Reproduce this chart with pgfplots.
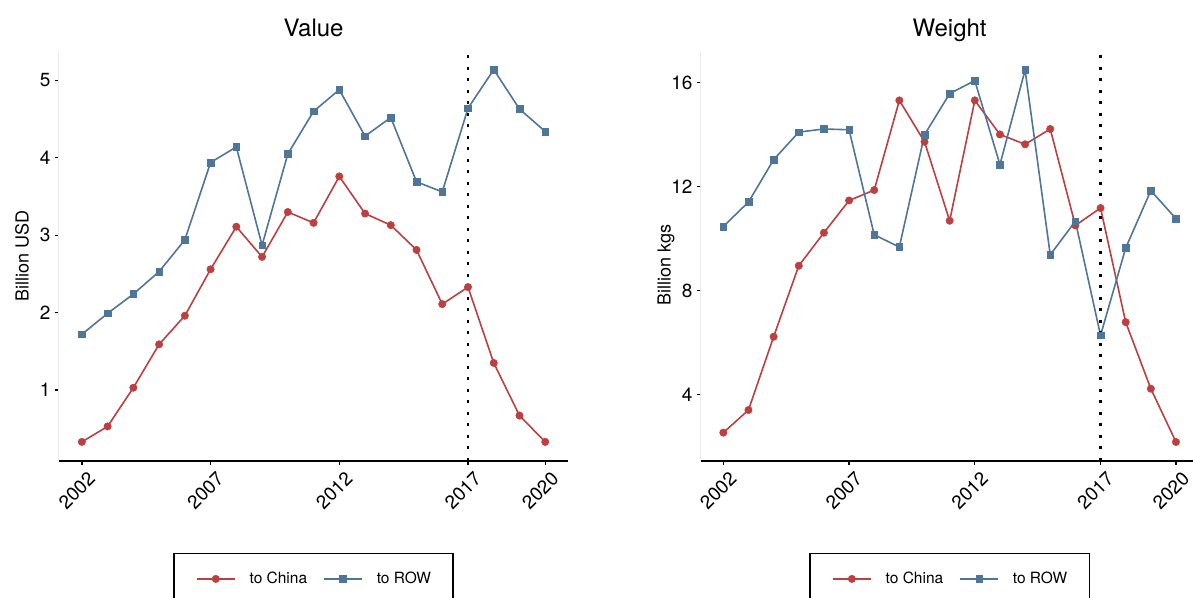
\documentclass[border=0pt]{standalone}
\usepackage{fontspec}
\setmainfont{TeX Gyre Heros}
\usepackage{pgfplots}
\pgfplotsset{compat=1.18}

\definecolor{cnred}{HTML}{BD3F3F}
\definecolor{rowblue}{HTML}{4F7599}

% export series: year, to China, to ROW
\pgfplotstableread{
year china row
2002 0.33 1.72
2003 0.53 1.99
2004 1.03 2.24
2005 1.59 2.53
2006 1.96 2.94
2007 2.56 3.94
2008 3.11 4.14
2009 2.72 2.87
2010 3.30 4.05
2011 3.16 4.60
2012 3.76 4.88
2013 3.28 4.28
2014 3.13 4.52
2015 2.81 3.69
2016 2.11 3.56
2017 2.33 4.64
2018 1.35 5.14
2019 0.67 4.63
2020 0.33 4.34
}\valuetab

\pgfplotstableread{
year china row
2002 2.54 10.47
2003 3.41 11.41
2004 6.23 13.04
2005 8.96 14.10
2006 10.23 14.22
2007 11.47 14.19
2008 11.87 10.15
2009 15.32 9.68
2010 13.73 14.00
2011 10.69 15.58
2012 15.32 16.08
2013 14.01 12.85
2014 13.63 16.49
2015 14.22 9.38
2016 10.51 10.67
2017 11.18 6.28
2018 6.79 9.64
2019 4.23 11.85
2020 2.18 10.77
}\weighttab

\pgfplotsset{
  panel/.style={
    scale only axis,
    height=409.7bp,
    axis x line*=bottom, axis y line*=left,
    x axis line style={-, line width=1.8bp, black},
    y axis line style={-, line width=0.8bp, black!8},
    tick style={black, line width=1.3bp},
    major tick length=4bp,
    tick align=outside,
    xmin=2001.1, xmax=2020.9,
    xtick={2002,2007,2012,2017,2020},
    xticklabels={2002,2007,2012,2017,2020},
    tick label style={font=\fontsize{19bp}{22bp}\selectfont},
    xticklabel style={yshift=-6bp, xshift=5bp, rotate=45, anchor=north east, inner sep=0pt},
    yticklabel style={xshift=-4bp, anchor=east, inner sep=0pt},
    every axis title/.style={at={(0.5,1)}, anchor=base, yshift=14.3bp,
      font=\fontsize{24bp}{28bp}\selectfont},
    every axis y label/.style={at={(0,0.5)}, xshift=-30.2bp, rotate=90,
      anchor=base, font=\fontsize{18bp}{21bp}\selectfont},
    legend columns=2,
    legend style={at={(0.5,-0.2246)}, anchor=north, draw=black,
      line width=1.3bp, inner xsep=22bp, inner ysep=19bp,
      font=\fontsize{15.5bp}{18bp}\selectfont,
      nodes={inner sep=0bp},
      /tikz/every odd column/.style={column sep=14bp},
      /tikz/every even column/.style={column sep=16bp}},
    legend image code/.code={\draw[mark repeat=2, mark phase=2]
      plot coordinates {(0bp,0bp) (19bp,0bp) (38bp,0bp)};},
  },
  chinaline/.style={color=cnred, line width=1.6bp, mark=*,
    mark size=3.7bp, mark options={solid, fill=cnred, draw=cnred, line width=0.5bp}},
  rowline/.style={color=rowblue, line width=1.6bp, mark=square*,
    mark size=3.3bp, mark options={solid, fill=rowblue, draw=rowblue, line width=0.5bp}},
  cutoff/.style={black, line width=2.8bp, dash pattern=on 2.8bp off 8.7bp, forget plot},
}

\begin{document}
\begin{tikzpicture}
\useasboundingbox (0,0) rectangle (1193bp,598bp);

\begin{axis}[panel, at={(58.7bp,137.3bp)}, anchor=south west,
  width=509.7bp, ymin=0.087, ymax=5.38,
  ytick={1,2,3,4,5}, yticklabels={1,2,3,4,5},
  title={Value}, ylabel={Billion USD}]
  \addplot[chinaline] table[x=year, y=china] {\valuetab};
  \addlegendentry{to China}
  \addplot[rowline] table[x=year, y=row] {\valuetab};
  \addlegendentry{to ROW}
  \addplot[cutoff] coordinates {(2017,0.087) (2017,5.38)};
\end{axis}

\begin{axis}[panel, at={(700.7bp,137.3bp)}, anchor=south west,
  width=497.9bp, ymin=1.46, ymax=17.22,
  ytick={4,8,12,16}, yticklabels={4,8,12,16},
  title={Weight}, ylabel={Billion kgs},
  every axis y label/.append style={xshift=-9bp}]
  \addplot[chinaline] table[x=year, y=china] {\weighttab};
  \addlegendentry{to China}
  \addplot[rowline] table[x=year, y=row] {\weighttab};
  \addlegendentry{to ROW}
  \addplot[cutoff] coordinates {(2017,1.46) (2017,17.22)};
\end{axis}
\end{tikzpicture}
\end{document}
